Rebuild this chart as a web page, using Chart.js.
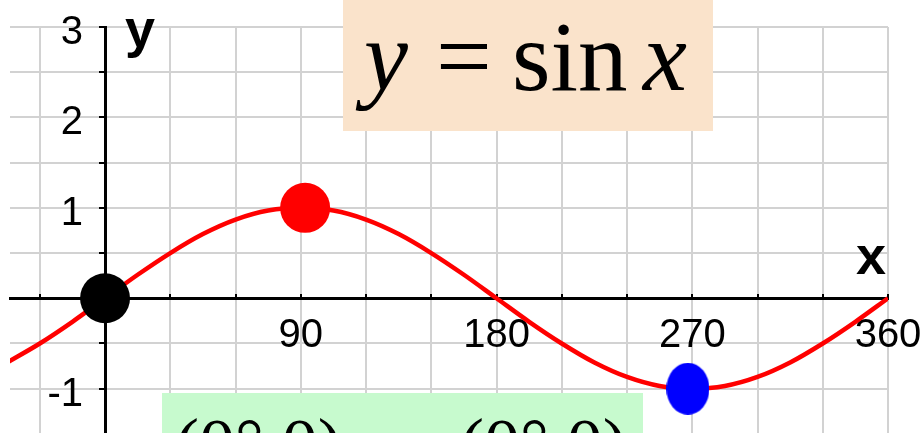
<!doctype html>
<html lang="en">
<head>
<meta charset="utf-8">
<title>y = sin x</title>
<script src="https://cdn.jsdelivr.net/npm/chart.js"></script>
<style>
html, body { margin: 0; padding: 0; background: #fff; overflow: hidden; }
#wrap { position: relative; width: 921px; height: 433px; }
</style>
</head>
<body>
<div id="wrap"><canvas id="chart"></canvas></div>
<script>
// Courbe y = sin x, relevée tous les 15°
const curveX = [-45, -30, -15, 0, 15, 30, 45, 60, 75, 90, 105, 120, 135, 150,
  165, 180, 195, 210, 225, 240, 255, 270, 285, 300, 315, 330, 345, 360];
const curveY = [-0.71, -0.5, -0.26, 0, 0.26, 0.5, 0.71, 0.87, 0.97, 1, 0.97, 0.87, 0.71, 0.5,
  0.26, 0, -0.26, -0.5, -0.71, -0.87, -0.97, -1, -0.97, -0.87, -0.71, -0.5, -0.26, 0];

// Points marqués sur la courbe
const markX = [0, 92, 268];
const markY = [0, 1, -1];
const markColors = ['#000000', '#ff0000', '#0000ff'];

// Graduations écrites sur les axes
const xLabels = [90, 180, 270, 360];
const yLabels = [-1, 1, 2, 3];

// Point bleu : ellipse un peu plus haute que large
function ellipse(w, h, color) {
  const c = document.createElement('canvas');
  c.width = w; c.height = h;
  const g = c.getContext('2d');
  g.fillStyle = color;
  g.beginPath();
  g.ellipse(w / 2, h / 2, w / 2, h / 2, 0, 0, Math.PI * 2);
  g.fill();
  return c;
}

const sansFont = '"Liberation Sans", Arial, sans-serif';
const serifFont = '"Liberation Serif", "Times New Roman", serif';
const tickFont = { family: sansFont, size: 40 };

// Graduations de l'axe y, écrites à gauche de l'axe placé en x = 0
const yTickText = {
  id: 'yTickText',
  beforeDatasetsDraw(chart) {
    const ctx = chart.ctx;
    const sx = chart.scales.x, sy = chart.scales.y;
    const x0 = sx.getPixelForValue(0);
    ctx.save();
    ctx.fillStyle = '#000';
    ctx.font = '40px ' + sansFont;
    ctx.textAlign = 'right';
    ctx.textBaseline = 'middle';
    sy.ticks.forEach(t => {
      if (yLabels.includes(t.value)) {
        ctx.fillText(String(t.value), x0 - 22, sy.getPixelForValue(t.value) + 6);
      }
    });
    ctx.restore();
  }
};

// Encadrés, noms des axes et équation
const decor = {
  id: 'decor',
  afterDraw(chart) {
    const ctx = chart.ctx;
    const sx = chart.scales.x, sy = chart.scales.y;
    ctx.save();

    // nom des axes
    ctx.fillStyle = '#000';
    ctx.font = 'bold 54px ' + sansFont;
    ctx.textBaseline = 'alphabetic';
    ctx.textAlign = 'left';
    ctx.fillText('y', sx.getPixelForValue(0) + 20, sy.getPixelForValue(3) + 20);
    ctx.fillText('x', sx.getPixelForValue(360) - 32, sy.getPixelForValue(0) - 24);

    // encadré de l'équation
    ctx.fillStyle = '#fae3cb';
    ctx.fillRect(343, 0, 370, 131);
    ctx.fillStyle = '#000';
    ctx.font = 'italic 99px ' + serifFont;
    ctx.fillText('y', 364, 90);
    ctx.font = '99px ' + serifFont;
    ctx.fillText('=', 436, 90);
    ctx.fillText('sin', 512, 90);
    ctx.font = 'italic 99px ' + serifFont;
    ctx.fillText('x', 643, 90);

    // encadré des coordonnées (coupé par le bas)
    ctx.fillStyle = '#c7face';
    ctx.fillRect(162, 393, 481, 40);
    ctx.fillStyle = '#000';
    ctx.font = '72px ' + serifFont;
    ctx.fillText('(0°,0)', 175, 468);
    ctx.fillText('(0°,0)', 460, 468);

    ctx.restore();
  }
};

new Chart(document.getElementById('chart'), {
  type: 'scatter',
  data: {
    datasets: [{
      data: markX.map((x, i) => ({ x: x, y: markY[i] })),
      order: 0,
      pointRadius: 25,
      pointBorderWidth: 0,
      pointBackgroundColor: markColors,
      pointStyle: ['circle', 'circle', ellipse(43, 52, markColors[2])],
      showLine: false
    }, {
      data: curveX.map((x, i) => ({ x: x, y: curveY[i] })),
      order: 1,
      showLine: true,
      borderColor: '#ff0000',
      borderWidth: 4.5,
      cubicInterpolationMode: 'monotone',
      pointRadius: 0,
      fill: false
    }]
  },
  options: {
    responsive: true,
    maintainAspectRatio: false,
    animation: false,
    events: [],
    layout: { autoPadding: false, padding: { left: 10, right: 33, top: 27, bottom: 0 } },
    scales: {
      x: {
        type: 'linear',
        min: -43.7,
        max: 360,
        position: { y: 0 },
        afterFit: s => { s.paddingLeft = 0; s.paddingRight = 0; },
        border: { color: '#000', width: 3 },
        // petites graduations tournées vers le haut
        grid: { color: '#d2d2d2', lineWidth: 2, tickColor: '#000', tickWidth: 2, tickLength: -6 },
        ticks: {
          stepSize: 30,
          includeBounds: false,
          autoSkip: false,
          maxRotation: 0,
          minRotation: 0,
          padding: 20,
          color: '#000',
          font: tickFont,
          callback: v => xLabels.includes(v) ? String(v) : ''
        }
      },
      y: {
        min: -1.49,
        max: 3,
        position: { x: 0 },
        afterFit: s => { s.paddingTop = 0; s.paddingBottom = 0; },
        border: { color: '#000', width: 3 },
        grid: { color: '#d2d2d2', lineWidth: 2, tickColor: '#000', tickWidth: 2, tickLength: 5 },
        ticks: {
          stepSize: 0.5,
          includeBounds: false,
          display: false
        }
      }
    },
    plugins: {
      legend: { display: false },
      tooltip: { enabled: false },
      title: { display: false }
    }
  },
  plugins: [yTickText, decor]
});
</script>
</body>
</html>
